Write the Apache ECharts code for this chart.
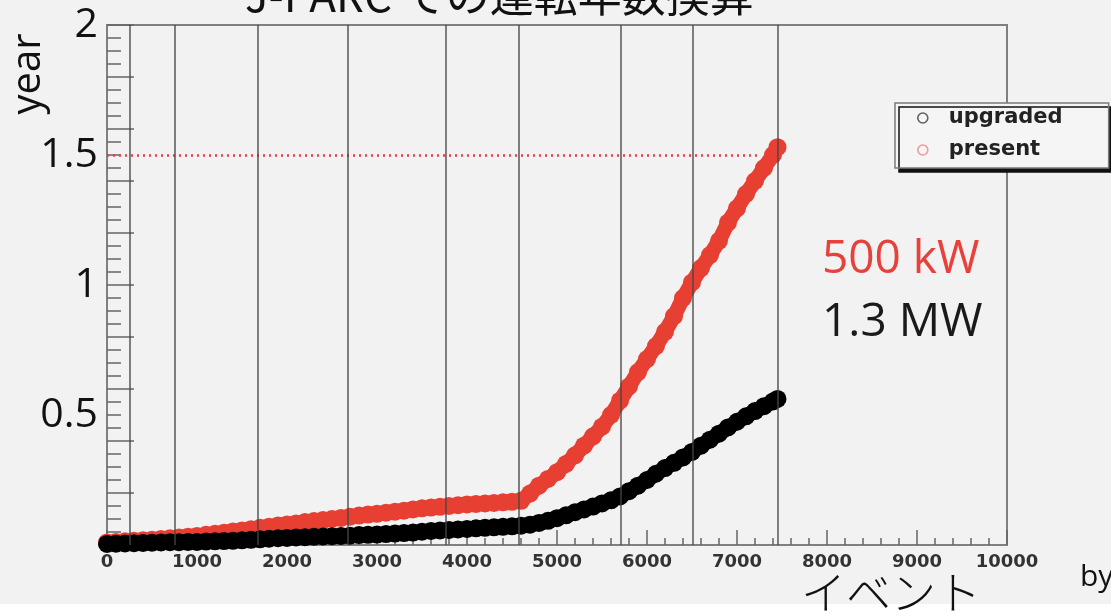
<!DOCTYPE html>
<html>
<head>
<meta charset="utf-8">
<script src="https://cdn.jsdelivr.net/npm/echarts@6/dist/echarts.min.js"></script>
<style>
html,body{margin:0;padding:0;background:#f2f2f2;}
#chart{width:1111px;height:613px;}
</style>
</head>
<body>
<div id="chart"></div>
<script>
// ---- data ----
const events = [0,100,200,300,400,500,600,700,800,900,1000,1100,1200,1300,1400,1500,1600,1700,1800,1900,
  2000,2100,2200,2300,2400,2500,2600,2700,2800,2900,3000,3100,3200,3300,3400,3500,3600,3700,3800,3900,
  4000,4100,4200,4300,4400,4500,4600,4700,4800,4900,5000,5100,5200,5300,5400,5500,5600,5700,5800,5900,
  6000,6100,6200,6300,6400,6500,6600,6700,6800,6900,7000,7100,7200,7300,7400,7450];
const present = [0.010,0.012,0.014,0.016,0.018,0.020,0.023,0.026,0.029,0.032,
  0.035,0.039,0.043,0.047,0.052,0.056,0.061,0.066,0.070,0.075,
  0.079,0.083,0.088,0.092,0.096,0.100,0.104,0.109,0.113,0.117,
  0.120,0.124,0.128,0.132,0.137,0.141,0.144,0.147,0.150,0.153,
  0.156,0.158,0.160,0.162,0.164,0.166,0.170,0.198,0.228,0.254,
  0.280,0.312,0.345,0.382,0.418,0.455,0.500,0.555,0.610,0.665,
  0.715,0.765,0.820,0.880,0.950,1.010,1.065,1.115,1.170,1.240,
  1.295,1.350,1.400,1.450,1.500,1.530];
const upgraded = [0.004,0.005,0.006,0.007,0.008,0.009,0.010,0.011,0.011,0.012,
  0.012,0.013,0.014,0.015,0.016,0.018,0.020,0.022,0.024,0.026,
  0.027,0.029,0.030,0.032,0.033,0.034,0.035,0.036,0.038,0.039,
  0.040,0.042,0.044,0.046,0.048,0.051,0.054,0.056,0.058,0.060,
  0.062,0.064,0.066,0.068,0.070,0.072,0.074,0.078,0.085,0.093,
  0.103,0.114,0.126,0.137,0.148,0.160,0.172,0.187,0.207,0.228,
  0.250,0.274,0.296,0.316,0.337,0.358,0.382,0.405,0.428,0.452,
  0.474,0.495,0.515,0.534,0.552,0.562];
const runBoundaries = [256, 756, 1678, 2678, 3767, 4578, 5711, 6511, 7456];
const targetYears = 1.5;
const targetLineEnd = 7230;
const xTickLabels = ['0','1000','2000','3000','4000','5000','6000','7000','8000','9000','10000'];
const yTickLabels = ['', '0.5', '1', '1.5', '2'];
const seriesNames = ['upgraded', 'present'];

const pair = (vals) => vals.map((v, i) => [events[i], v]);

const chart = echarts.init(document.getElementById('chart'), null, {renderer: 'canvas'});
chart.setOption({
  backgroundColor: '#f2f2f2',
  animation: false,
  title: {
    text: 'J-PARC での運転年数換算',
    left: 245,
    top: -27,
    padding: 0,
    textStyle: {fontFamily: 'Noto Sans CJK JP', fontSize: 44, fontWeight: 'normal', color: '#111'}
  },
  grid: {left: 107, right: 104, top: 25, bottom: 68, show: true,
    borderColor: '#808080', borderWidth: 2, backgroundColor: 'transparent'},
  legend: {
    data: [
      {name: seriesNames[0], icon: 'circle', itemStyle: {color: 'rgba(0,0,0,0)', borderColor: '#606060', borderWidth: 1.6}},
      {name: seriesNames[1], icon: 'circle', itemStyle: {color: 'rgba(0,0,0,0)', borderColor: '#f09a9a', borderWidth: 1.6}}
    ],
    orient: 'vertical',
    left: 895, top: 103,
    itemWidth: 10, itemHeight: 10,
    itemGap: 10,
    padding: [4, 46, 7, 22],
    backgroundColor: '#f5f5f5',
    borderColor: '#7a7a7a', borderWidth: 1.5,
    shadowColor: '#111', shadowBlur: 0, shadowOffsetX: 4, shadowOffsetY: 4,
    textStyle: {fontFamily: 'DejaVu Sans', fontWeight: 'bold', fontSize: 21, color: '#222',
      lineHeight: 22, padding: [0, 0, 0, 16]}
  },
  xAxis: {
    type: 'value', min: 0, max: 10000, interval: 1000,
    axisLine: {show: true, lineStyle: {color: '#808080', width: 2}},
    axisTick: {show: true, inside: true, length: 15, lineStyle: {color: '#666', width: 1.5}},
    minorTick: {show: true, splitNumber: 5, length: 7, lineStyle: {color: '#666', width: 1.5}},
    splitLine: {show: false},
    axisLabel: {margin: 8, fontFamily: 'DejaVu Sans', fontWeight: 'bold', fontSize: 18, color: '#333',
      formatter: (v) => xTickLabels[Math.round(v / 1000)] ?? ''}
  },
  yAxis: [
    {
      type: 'value', min: 0, max: 2, interval: 0.2,
      axisLine: {show: true, lineStyle: {color: '#808080', width: 2}},
      axisTick: {show: true, inside: true, length: 27, lineStyle: {color: '#666', width: 1.5}},
      minorTick: {show: true, splitNumber: 4, length: 14, lineStyle: {color: '#666', width: 1.5}},
      splitLine: {show: false},
      axisLabel: {show: false}
    },
    {
      type: 'value', min: 0, max: 2, interval: 0.5, position: 'left',
      axisLine: {show: false}, axisTick: {show: false}, splitLine: {show: false},
      axisLabel: {margin: 9, fontFamily: 'Open Sans', fontWeight: 'normal', fontSize: 41, color: '#111',
        showMaxLabel: true,
        formatter: (v) => yTickLabels[Math.round(v * 2)] ?? ''}
    }
  ],
  series: [
    {
      name: seriesNames[1], type: 'line', z: 2,
      data: pair(present),
      showAllSymbol: true, symbol: 'circle', symbolSize: 18,
      itemStyle: {color: '#e83f33'},
      lineStyle: {color: '#e83f33', width: 15},
      markLine: {
        silent: true, symbol: 'none', label: {show: false},
        lineStyle: {color: '#e8403a', type: [2, 4], width: 2.5},
        data: [[{coord: [0, targetYears]}, {coord: [targetLineEnd, targetYears]}]]
      }
    },
    {
      name: seriesNames[0], type: 'line', z: 3,
      data: pair(upgraded),
      showAllSymbol: true, symbol: 'circle', symbolSize: 18,
      itemStyle: {color: '#000'},
      lineStyle: {color: '#000', width: 15},
      markLine: {
        silent: true, symbol: 'none', label: {show: false},
        lineStyle: {color: 'rgba(70,70,70,0.75)', type: 'solid', width: 1.8},
        data: runBoundaries.map((x) => ({xAxis: x}))
      }
    }
  ],
  graphic: [
    {type: 'rect', left: 0, top: 604, shape: {width: 1111, height: 9}, style: {fill: '#ffffff'}, z: 0},
    {type: 'text', x: 29, y: 74, rotation: Math.PI / 2,
      style: {text: 'year', fontFamily: 'Open Sans', fontSize: 40, fill: '#111', align: 'center', verticalAlign: 'middle'}},
    {type: 'text', x: 822, y: 260,
      style: {text: '500 kW', fontFamily: 'Open Sans', fontSize: 46, fill: '#e8403a', align: 'left', verticalAlign: 'middle'}},
    {type: 'text', x: 822, y: 323,
      style: {text: '1.3 MW', fontFamily: 'Open Sans', fontSize: 46, fill: '#1a1a1a', align: 'left', verticalAlign: 'middle'}},
    {type: 'text', x: 891, y: 570,
      style: {text: 'イベント', fontFamily: 'Noto Sans CJK JP', fontWeight: 300, fontSize: 45, fill: '#111', align: 'center', verticalAlign: 'top'}},
    {type: 'text', x: 1080, y: 562,
      style: {text: 'by', fontFamily: 'Open Sans', fontSize: 30, fill: '#111', align: 'left', verticalAlign: 'top'}}
  ]
});
</script>
</body>
</html>
